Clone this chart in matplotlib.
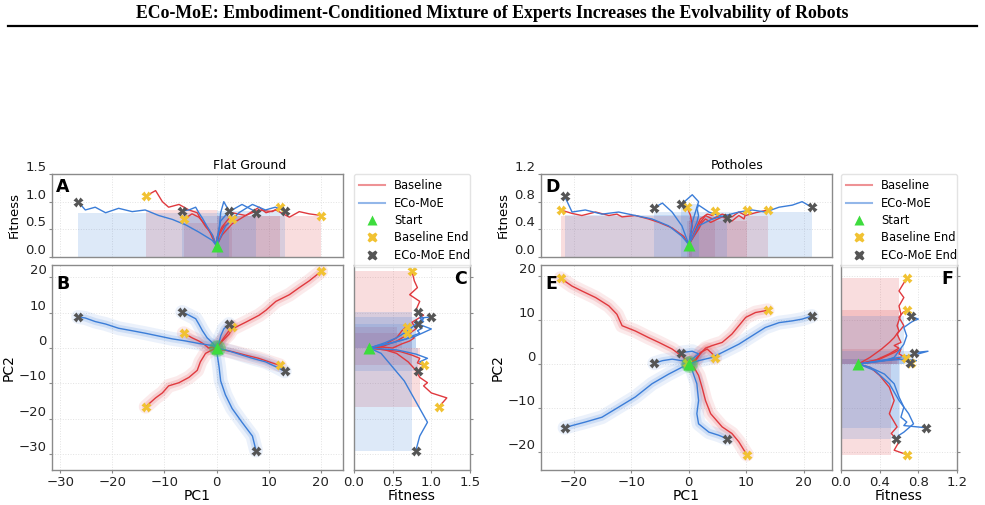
import matplotlib
matplotlib.use("Agg")
import matplotlib.pyplot as plt
from matplotlib.lines import Line2D
import numpy as np

# ---- data (PC1, PC2, fitness along each run) ----
flat_base_pc1 = [
    [0, 0.1, 1.1, 2.4, 3.0, 5.6, 8.2, 9.5, 11.4, 14.0, 15.9, 17.8, 20.1],
    [0, -0.8, -2.1, -3.1, -3.7, -5.3, -7.2, -9.2, -10.4, -11.7, -13.6],
    [0, -0.8, -1.5, -2.5, -3.4, -4.7, -6.3],
    [0, 1.1, 3.0, 5.6, 8.1, 10.7, 12.2],
    [0, 0.5, 1.4, 2.4, 2.9],
]
flat_base_pc2 = [
    [0, 0.3, 1.95, 3.9, 5.4, 7.3, 9.3, 10.7, 13.2, 15.1, 17.1, 19.0, 21.7],
    [0, -0.5, -1.5, -3.9, -6.3, -8.3, -9.8, -10.7, -12.7, -14.1, -16.6],
    [0, 0.3, 0.0, 1.2, 2.0, 2.9, 4.2],
    [0, -0.5, -1.0, -2.0, -2.9, -4.2, -4.9],
    [0, 1.0, 2.9, 4.9, 6.1],
]
flat_base_fit = [
    [0.2, 0.35, 0.55, 0.7, 0.8, 0.75, 0.9, 0.8, 0.85, 0.72, 0.82, 0.78, 0.75],
    [0.2, 0.4, 0.55, 0.7, 0.8, 0.85, 0.95, 0.9, 1.0, 1.2, 1.1],
    [0.2, 0.35, 0.5, 0.62, 0.72, 0.78, 0.68],
    [0.2, 0.4, 0.6, 0.75, 0.85, 0.82, 0.9],
    [0.2, 0.4, 0.55, 0.62, 0.68],
]
flat_moe_pc1 = [
    [0, -0.8, -3.4, -5.9, -8.5, -11.1, -13.7, -16.2, -18.8, -21.3, -23.3, -25.2, -26.6],
    [0, -0.8, -1.8, -2.7, -3.4, -4.0, -5.3, -6.6],
    [0, 0.5, 0.8, 1.4, 2.4],
    [0, 1.7, 4.3, 6.9, 9.4, 11.3, 13.1],
    [0, 0.1, 0.5, 0.8, 1.7, 3.0, 4.9, 6.9, 7.6],
]
flat_moe_pc2 = [
    [0, 0.7, 1.3, 2.0, 2.6, 3.4, 4.2, 4.9, 5.6, 6.8, 7.5, 8.5, 8.8],
    [0, 1.5, 2.9, 4.9, 6.8, 8.3, 9.3, 10.2],
    [0, 1.5, 3.4, 5.4, 6.8],
    [0, -0.5, -1.7, -2.9, -3.9, -5.2, -6.6],
    [0, -1.5, -5.4, -9.3, -13.2, -17.1, -21.0, -24.9, -29.0],
]
flat_moe_fit = [
    [0.2, 0.3, 0.45, 0.58, 0.68, 0.75, 0.85, 0.82, 0.88, 0.8, 0.9, 0.85, 1.0],
    [0.2, 0.4, 0.55, 0.7, 0.8, 0.9, 0.85, 0.83],
    [0.2, 0.5, 0.8, 1.0, 0.83],
    [0.2, 0.55, 0.8, 0.95, 0.85, 0.9, 0.83],
    [0.2, 0.35, 0.5, 0.65, 0.75, 0.85, 0.95, 0.85, 0.8],
]

hole_base_pc1 = [
    [0, -0.9, -2.9, -5.2, -7.0, -9.3, -11.6, -12.5, -13.9, -16.2, -18.6, -20.3, -22.3],
    [0, 1.2, 2.0, 2.9, 4.1, 5.8, 7.5, 8.7, 9.9, 11.6, 13.7],
    [0, 1.2, 2.0, 3.2, 4.1, 4.6],
    [0, 0.9, 1.7, 2.3, 2.9, 3.8, 5.8, 7.5, 8.7, 9.6, 10.1],
    [0, 0.6, 0.3, -0.3],
]
hole_base_pc2 = [
    [0, 1.5, 3.4, 4.9, 6.0, 7.5, 8.7, 11.3, 13.2, 15.1, 16.6, 17.7, 19.5],
    [0, 0.8, 2.3, 3.6, 4.2, 4.9, 6.8, 8.7, 10.6, 11.7, 12.2],
    [0, 1.1, 2.6, 3.4, 2.3, 1.4],
    [0, -0.75, -2.6, -5.3, -8.3, -11.3, -14.3, -15.8, -17.7, -19.6, -20.6],
    [0, 0.8, 1.2, 0.3],
]
hole_base_fit = [
    [0.18, 0.3, 0.42, 0.5, 0.55, 0.6, 0.58, 0.62, 0.6, 0.65, 0.6, 0.63, 0.68],
    [0.18, 0.35, 0.5, 0.6, 0.55, 0.62, 0.58, 0.65, 0.6, 0.64, 0.68],
    [0.18, 0.4, 0.55, 0.62, 0.6, 0.67],
    [0.18, 0.3, 0.4, 0.5, 0.55, 0.5, 0.58, 0.52, 0.6, 0.55, 0.68],
    [0.18, 0.45, 0.6, 0.72],
]
hole_moe_pc1 = [
    [0, 1.7, 4.1, 6.4, 8.7, 11.0, 13.3, 15.7, 18.0, 19.7, 21.4],
    [0, 0.6, 1.7, 0.6, -1.3],
    [0, -1.2, -2.9, -4.6, -6.0],
    [0, -1.2, -3.5, -6.4, -9.3, -12.2, -15.1, -18.0, -20.3, -21.6],
    [0, 0.6, 1.4, 1.7, 1.4, 1.7, 3.5, 5.2, 6.7],
]
hole_moe_pc2 = [
    [0, 0.75, 1.5, 3.0, 4.5, 6.4, 8.3, 9.4, 9.8, 10.2, 10.9],
    [0, 1.1, 2.3, 2.9, 2.6],
    [0, 0.75, 1.1, 0.75, 0.15],
    [0, -0.75, -2.3, -4.5, -7.5, -9.8, -12.1, -13.2, -14.0, -14.5],
    [0, -1.5, -4.5, -8.3, -11.3, -13.6, -15.5, -16.2, -17.0],
]
hole_moe_fit = [
    [0.18, 0.45, 0.55, 0.6, 0.65, 0.68, 0.65, 0.72, 0.75, 0.8, 0.72],
    [0.18, 0.5, 0.8, 0.9, 0.76],
    [0.18, 0.45, 0.65, 0.78, 0.71],
    [0.18, 0.3, 0.45, 0.55, 0.6, 0.65, 0.62, 0.68, 0.65, 0.88],
    [0.18, 0.35, 0.5, 0.6, 0.7, 0.75, 0.65, 0.6, 0.57],
]

RED = "#e0393e"
BLUE = "#3b7dd8"
GREEN = "#3ddc3d"
YELLOW = "#f1c232"
GRAY = "#555555"
SPINE = "#8a8a8a"

W, H = 985, 505
fig = plt.figure(figsize=(W / 100, H / 100), dpi=100)


def px_axes(x0, y0, x1, y1, **kw):
    return fig.add_axes([x0 / W, 1 - y1 / H, (x1 - x0) / W, (y1 - y0) / H], **kw)


def style(ax):
    for s in ax.spines.values():
        s.set_color(SPINE)
        s.set_linewidth(1.0)
    ax.tick_params(labelsize=9.5, length=2.5, pad=1.5, color=SPINE, labelcolor="#222222")
    ax.grid(True, color="#e2e2e2", linestyle=":", linewidth=0.7)
    ax.set_axisbelow(True)


def lift_yticks(ax):
    for t in ax.get_yticklabels():
        t.set_verticalalignment("bottom")


def panel(x0, env, b_pc1, b_pc2, b_fit, m_pc1, m_pc2, m_fit, letters,
          xlim, ylim, xticks, yticks, fit_max, fit_ticks):
    dx = 0 if x0 == 0 else -2
    axA = px_axes(x0 + 52, 174, x0 + 343, 257)
    axB = px_axes(x0 + 52, 265, x0 + 343, 470, sharex=axA)
    axC = px_axes(x0 + 354 + dx, 265, x0 + 470 + dx, 470, sharey=axB)
    for ax in (axA, axB, axC):
        style(ax)

    groups = [(b_pc1, b_pc2, b_fit, RED, YELLOW), (m_pc1, m_pc2, m_fit, BLUE, GRAY)]

    # shaded extents
    for pc1s, pc2s, fits, col, _ in groups:
        for p1, p2, f in zip(pc1s, pc2s, fits):
            h = np.median(f)
            axA.fill_between([min(p1), max(p1)], 0, h, color=col, alpha=0.17, lw=0, zorder=1)
            axC.fill_betweenx([min(p2), max(p2)], 0, h, color=col, alpha=0.17, lw=0, zorder=1)

    for pc1s, pc2s, fits, col, endcol in groups:
        for p1, p2, f in zip(pc1s, pc2s, fits):
            axB.plot(p1, p2, color=col, lw=10, alpha=0.1, solid_capstyle="round", zorder=2)
            axB.plot(p1, p2, color=col, lw=5, alpha=0.16, solid_capstyle="round", zorder=2)
            axB.plot(p1, p2, color=col, lw=1.0, zorder=3)
            axA.plot(p1, f, color=col, lw=1.0, zorder=3)
            axC.plot(f, p2, color=col, lw=1.0, zorder=3)
            axB.plot(p1[-1], p2[-1], "X", color=endcol, ms=7, mec="none", zorder=5)
            axA.plot(p1[-1], f[-1], "X", color=endcol, ms=6.5, mec="none", zorder=5)
            axC.plot(f[-1], p2[-1], "X", color=endcol, ms=6.5, mec="none", zorder=5)

    start_fit = b_fit[0][0]
    axB.plot(b_pc1[0][0], b_pc2[0][0], "o", color=GREEN, ms=12, alpha=0.4, mec="none", zorder=5)
    axB.plot(b_pc1[0][0], b_pc2[0][0], "^", color=GREEN, ms=9, mec="none", zorder=6)
    axA.plot(b_pc1[0][0], start_fit, "^", color=GREEN, ms=8, mec="none", zorder=6)
    axC.plot(start_fit, b_pc2[0][0], "^", color=GREEN, ms=8, mec="none", zorder=6)

    axB.set_xlim(*xlim)
    axB.set_ylim(*ylim)
    axB.set_xticks(xticks)
    axB.set_yticks(yticks)
    axA.set_ylim(0, fit_max)
    axA.set_yticks(fit_ticks)
    axA.set_yticklabels([f"{t:.1f}" for t in fit_ticks])
    axC.set_xlim(0, fit_max)
    axC.set_xticks(fit_ticks)
    axC.set_xticklabels([f"{t:.1f}" for t in fit_ticks])
    axA.tick_params(axis="x", labelbottom=False, length=0)
    axC.tick_params(axis="y", left=False, right=True, labelleft=False, labelright=False)

    axA.set_ylabel("Fitness", fontsize=9.5, labelpad=3)
    axB.set_ylabel("PC2", fontsize=10, labelpad=2)
    axB.set_xlabel("PC1", fontsize=10, labelpad=0)
    axC.set_xlabel("Fitness", fontsize=10, labelpad=0)

    for ax, lt in zip((axA, axB), letters[:2]):
        ax.text(0.015, 0.95, lt, transform=ax.transAxes, fontsize=12.5, fontweight="bold",
                ha="left", va="top", zorder=10)
    axC.text(0.97, 0.975, letters[2], transform=axC.transAxes, fontsize=12.5, fontweight="bold",
             ha="right", va="top", zorder=10)

    for ax in (axA, axB):
        lift_yticks(ax)

    fig.text((x0 + 250 + (0 if x0 == 0 else -2)) / W, 1 - 165 / H, env, ha="center", va="center", fontsize=9)

    handles = [
        Line2D([], [], color=RED, alpha=0.55, lw=1.5),
        Line2D([], [], color=BLUE, alpha=0.55, lw=1.5),
        Line2D([], [], color=GREEN, marker="^", ls="", ms=7.5, mec="none"),
        Line2D([], [], color=YELLOW, marker="X", ls="", ms=7.5, mec="none"),
        Line2D([], [], color=GRAY, marker="X", ls="", ms=7.5, mec="none"),
    ]
    labels = ["Baseline", "ECo-MoE", "Start", "Baseline End", "ECo-MoE End"]
    fig.legend(handles, labels, loc="upper left", mode="expand",
               bbox_to_anchor=((x0 + 354 + dx) / W, 1 - 174 / H, 116 / W, 0.0),
               fontsize=8.3, frameon=True, borderaxespad=0, labelspacing=0.38,
               handlelength=2.2, handletextpad=0.8, borderpad=0.45,
               edgecolor="#dddddd", fancybox=True)


panel(0, "Flat Ground", flat_base_pc1, flat_base_pc2, flat_base_fit,
      flat_moe_pc1, flat_moe_pc2, flat_moe_fit, "ABC",
      (-31.6, 24.3), (-34.5, 23.5), [-30, -20, -10, 0, 10, 20], [-30, -20, -10, 0, 10, 20],
      1.5, [0.0, 0.5, 1.0, 1.5])
panel(489, "Potholes", hole_base_pc1, hole_base_pc2, hole_base_fit,
      hole_moe_pc1, hole_moe_pc2, hole_moe_fit, "DEF",
      (-25.7, 24.9), (-24.1, 22.5), [-20, -10, 0, 10, 20], [-20, -10, 0, 10, 20],
      1.2, [0.0, 0.4, 0.8, 1.2])

fig.text(0.5, 1 - 14 / H,
         "ECo-MoE: Embodiment-Conditioned Mixture of Experts Increases the Evolvability of Robots",
         ha="center", va="center", fontsize=12.8, fontweight="bold", family="Liberation Serif")
fig.add_artist(Line2D([8 / W, 977 / W], [1 - 26 / H, 1 - 26 / H], color="black", lw=1.6))

fig.savefig("out.png", dpi=100)
